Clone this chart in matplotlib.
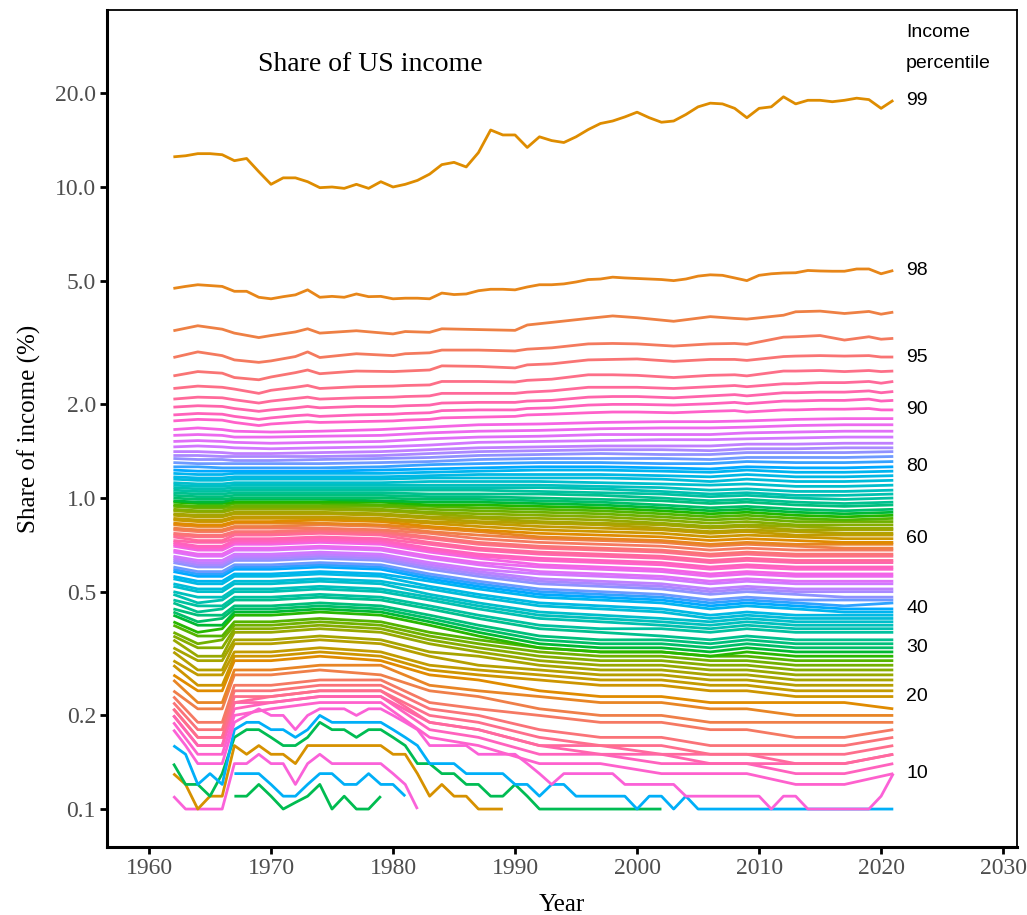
import matplotlib
matplotlib.use("Agg")
import matplotlib.pyplot as plt
import numpy as np

# ---------------- data (share of income, %) ----------------
years = list(range(1962, 2022))

share_p99 = [12.5, 12.6, 12.8, 12.8, 12.7, 12.15, 12.35, 11.2, 10.2, 10.7, 10.7, 10.4, 9.95, 10.0,
             9.9, 10.2, 9.9, 10.4, 10.0, 10.2, 10.5, 11.0, 11.8, 12.0, 11.6, 12.9, 15.25, 14.7,
             14.7, 13.4, 14.5, 14.1, 13.9, 14.5, 15.3, 16.0, 16.3, 16.8, 17.4, 16.7, 16.15, 16.3,
             17.1, 18.1, 18.6, 18.5, 17.9, 16.7, 17.9, 18.1, 19.5, 18.5, 19.0, 19.0, 18.8, 19.0,
             19.3, 19.1, 17.9, 19.0]
share_p98 = [4.72, 4.79, 4.85, 4.82, 4.79, 4.62, 4.62, 4.42, 4.37, 4.44, 4.50, 4.67, 4.42, 4.45,
             4.42, 4.53, 4.44, 4.45, 4.37, 4.39, 4.39, 4.37, 4.56, 4.51, 4.53, 4.64, 4.69, 4.69,
             4.67, 4.77, 4.85, 4.85, 4.88, 4.95, 5.04, 5.06, 5.13, 5.10, 5.08, 5.06, 5.04, 5.00,
             5.06, 5.17, 5.22, 5.20, 5.10, 5.00, 5.20, 5.26, 5.29, 5.30, 5.39, 5.37, 5.36, 5.36,
             5.45, 5.45, 5.26, 5.39]

years_upper = [1962, 1964, 1966, 1967, 1969, 1970, 1972, 1973, 1974, 1977, 1980, 1981, 1983, 1984,
               1987, 1990, 1991, 1993, 1996, 1998, 2000, 2003, 2006, 2008, 2009, 2012, 2013, 2015,
               2017, 2019, 2020, 2021]
share_p97 = [3.45, 3.58, 3.49, 3.39, 3.28, 3.33, 3.42, 3.50, 3.39, 3.45, 3.37, 3.43, 3.41, 3.50,
             3.48, 3.46, 3.60, 3.67, 3.78, 3.85, 3.80, 3.70, 3.83, 3.78, 3.76, 3.87, 3.97, 3.99,
             3.92, 3.98, 3.90, 3.96]
share_p96 = [2.83, 2.95, 2.87, 2.78, 2.73, 2.76, 2.85, 2.95, 2.83, 2.91, 2.87, 2.91, 2.93, 2.99,
             2.99, 2.97, 3.01, 3.04, 3.13, 3.14, 3.13, 3.08, 3.13, 3.14, 3.12, 3.29, 3.30, 3.33,
             3.22, 3.30, 3.24, 3.26]
share_p95 = [2.47, 2.55, 2.52, 2.44, 2.40, 2.45, 2.53, 2.58, 2.51, 2.56, 2.55, 2.56, 2.58, 2.66,
             2.65, 2.62, 2.68, 2.70, 2.78, 2.79, 2.80, 2.75, 2.79, 2.79, 2.77, 2.85, 2.86, 2.87,
             2.86, 2.87, 2.84, 2.84]
share_p94 = [2.25, 2.29, 2.27, 2.24, 2.17, 2.22, 2.27, 2.30, 2.25, 2.28, 2.29, 2.30, 2.31, 2.37,
             2.37, 2.36, 2.39, 2.41, 2.49, 2.49, 2.48, 2.44, 2.48, 2.49, 2.47, 2.56, 2.56, 2.57,
             2.55, 2.57, 2.55, 2.56]
share_p93 = [2.08, 2.11, 2.10, 2.07, 2.02, 2.05, 2.09, 2.11, 2.08, 2.10, 2.11, 2.12, 2.13, 2.17,
             2.17, 2.17, 2.19, 2.21, 2.27, 2.27, 2.27, 2.25, 2.28, 2.30, 2.28, 2.33, 2.33, 2.35,
             2.35, 2.37, 2.34, 2.37]
share_p92 = [1.96, 1.98, 1.97, 1.94, 1.90, 1.92, 1.95, 1.97, 1.95, 1.97, 1.97, 1.98, 1.99, 2.02,
             2.03, 2.03, 2.05, 2.06, 2.11, 2.12, 2.12, 2.10, 2.13, 2.15, 2.13, 2.18, 2.18, 2.19,
             2.19, 2.21, 2.18, 2.20]
share_p91 = [1.85, 1.87, 1.86, 1.83, 1.79, 1.81, 1.84, 1.85, 1.83, 1.85, 1.86, 1.87, 1.88, 1.91,
             1.92, 1.92, 1.94, 1.95, 1.99, 2.00, 2.00, 1.99, 2.01, 2.03, 2.01, 2.05, 2.05, 2.06,
             2.06, 2.08, 2.05, 2.06]
share_p90 = [1.77, 1.79, 1.78, 1.75, 1.71, 1.73, 1.75, 1.76, 1.75, 1.76, 1.77, 1.78, 1.79, 1.81,
             1.82, 1.83, 1.85, 1.86, 1.88, 1.89, 1.89, 1.88, 1.90, 1.91, 1.89, 1.92, 1.92, 1.93,
             1.93, 1.94, 1.92, 1.92]

# middle percentiles, in hundredths of a percent
years_mid = [1962, 1964, 1966, 1967, 1970, 1974, 1979, 1983, 1987, 1992, 1997, 2002, 2006, 2009,
             2013, 2017, 2021]
share_p89 = [166, 168, 166, 164, 163, 164, 166, 169, 172, 173, 175, 176, 176, 177, 179, 180, 180]
share_p88 = [159, 160, 159, 157, 157, 158, 159, 162, 164, 165, 167, 168, 168, 169, 171, 172, 172]
share_p87 = [152, 153, 152, 151, 150, 151, 152, 155, 157, 158, 160, 160, 160, 162, 163, 164, 164]
share_p86 = [146, 147, 146, 145, 144, 145, 146, 148, 151, 152, 153, 154, 154, 155, 156, 157, 157]
share_p85 = [141, 141, 140, 139, 139, 140, 141, 143, 145, 146, 147, 147, 147, 149, 149, 150, 150]
share_p84 = [137, 137, 136, 136, 136, 136, 137, 139, 141, 142, 143, 143, 142, 144, 144, 145, 145]
share_p83 = [134, 133, 133, 132, 132, 133, 134, 135, 137, 138, 139, 138, 138, 140, 140, 140, 141]
share_p82 = [130, 129, 129, 129, 129, 129, 130, 131, 133, 134, 134, 134, 133, 135, 135, 135, 136]
share_p81 = [126, 126, 125, 125, 125, 125, 126, 128, 129, 130, 130, 129, 129, 131, 130, 130, 131]
share_p80 = [123, 122, 122, 122, 122, 122, 123, 124, 125, 126, 126, 125, 124, 126, 125, 125, 126]
share_p79 = [120, 119, 119, 120, 120, 120, 120, 121, 122, 123, 123, 122, 121, 123, 121, 121, 122]
share_p78 = [117, 116, 116, 117, 117, 117, 117, 118, 119, 119, 119, 118, 117, 119, 117, 117, 118]
share_p77 = [115, 114, 114, 115, 115, 115, 115, 116, 116, 116, 116, 115, 113, 115, 113, 113, 114]
share_p76 = [112, 111, 111, 112, 112, 112, 112, 113, 113, 113, 112, 111, 110, 111, 109, 109, 110]
share_p75 = [110, 109, 109, 110, 110, 110, 110, 110, 110, 110, 109, 108, 106, 107, 105, 105, 106]
share_p74 = [108, 107, 107, 108, 108, 108, 108, 108, 108, 108, 107, 105, 103, 104, 102, 102, 103]
share_p73 = [106, 105, 105, 106, 106, 106, 106, 106, 106, 105, 104, 103, 101, 102, 100, 99, 100]
share_p72 = [104, 103, 103, 104, 104, 104, 104, 103, 103, 103, 102, 100, 98, 99, 97, 96, 97]
share_p71 = [102, 101, 101, 102, 102, 102, 102, 101, 101, 100, 99, 98, 96, 97, 95, 94, 95]
share_p70 = [100, 99, 99, 100, 100, 100, 100, 99, 99, 98, 97, 95, 93, 94, 92, 91, 92]
share_p69 = [98, 97, 97, 99, 99, 99, 98, 97, 97, 96, 95, 93, 91, 92, 90, 89, 90]
share_p68 = [97, 96, 96, 97, 97, 97, 97, 95, 95, 94, 93, 91, 89, 90, 88, 87, 88]
share_p67 = [95, 94, 94, 96, 96, 96, 95, 94, 93, 92, 91, 89, 87, 88, 86, 85, 86]
share_p66 = [94, 93, 93, 94, 94, 94, 94, 92, 91, 90, 89, 87, 85, 86, 84, 84, 84]
share_p65 = [92, 91, 91, 93, 93, 93, 92, 90, 89, 88, 87, 85, 83, 84, 82, 82, 82]
share_p64 = [91, 90, 90, 92, 92, 92, 91, 89, 87, 86, 85, 83, 81, 82, 81, 80, 80]
share_p63 = [89, 88, 88, 90, 90, 90, 89, 87, 86, 84, 83, 82, 80, 81, 79, 79, 79]
share_p62 = [88, 87, 87, 89, 89, 89, 88, 86, 84, 83, 82, 80, 78, 79, 78, 77, 77]
share_p61 = [86, 85, 85, 87, 87, 87, 86, 84, 83, 81, 80, 79, 77, 78, 76, 76, 76]
share_p60 = [85, 84, 84, 86, 86, 86, 85, 83, 81, 79, 78, 77, 75, 76, 75, 74, 74]
share_p59 = [83, 82, 82, 84, 84, 85, 84, 81, 79, 77, 76, 75, 73, 74, 73, 72, 72]
share_p58 = [82, 81, 81, 83, 83, 83, 82, 80, 78, 75, 74, 73, 71, 72, 71, 71, 71]
share_p57 = [80, 79, 79, 81, 81, 82, 81, 78, 76, 74, 73, 72, 70, 71, 70, 69, 69]
share_p56 = [79, 78, 78, 80, 80, 80, 79, 77, 74, 72, 71, 70, 68, 69, 68, 68, 68]
share_p55 = [77, 76, 76, 78, 78, 79, 78, 75, 72, 70, 69, 68, 66, 67, 66, 66, 66]
share_p54 = [76, 75, 75, 77, 77, 78, 77, 74, 71, 69, 68, 67, 65, 66, 65, 65, 65]
share_p53 = [75, 73, 73, 76, 76, 77, 76, 72, 69, 67, 66, 65, 63, 64, 63, 63, 63]
share_p52 = [73, 72, 72, 74, 74, 75, 74, 71, 68, 66, 65, 64, 62, 63, 62, 62, 62]
share_p51 = [72, 70, 70, 73, 73, 74, 73, 69, 66, 64, 63, 62, 60, 61, 60, 60, 60]
share_p50 = [71, 69, 69, 72, 72, 73, 72, 68, 65, 63, 62, 61, 59, 60, 59, 59, 59]
share_p49 = [70, 68, 68, 71, 71, 72, 71, 67, 64, 61, 60, 59, 57, 58, 57, 57, 57]
share_p48 = [68, 66, 66, 69, 69, 70, 69, 65, 62, 60, 59, 58, 56, 57, 56, 56, 56]
share_p47 = [67, 65, 65, 68, 68, 69, 68, 64, 61, 58, 57, 56, 54, 55, 54, 54, 54]
share_p46 = [65, 63, 63, 66, 66, 67, 66, 62, 59, 57, 56, 55, 53, 54, 53, 53, 53]
share_p45 = [64, 62, 62, 65, 65, 66, 65, 61, 58, 55, 54, 53, 51, 52, 51, 51, 51]
share_p44 = [63, 61, 61, 64, 64, 65, 64, 60, 57, 54, 53, 52, 50, 51, 50, 50, 50]
share_p43 = [62, 60, 60, 63, 63, 64, 63, 59, 56, 53, 52, 51, 49, 50, 49, 48, 48]
share_p42 = [60, 58, 58, 61, 61, 62, 61, 57, 54, 51, 50, 49, 47, 48, 47, 47, 47]
share_p41 = [59, 57, 57, 60, 60, 61, 60, 56, 53, 50, 49, 48, 46, 47, 46, 45, 46]
share_p40 = [58, 56, 56, 59, 59, 60, 59, 55, 52, 49, 48, 47, 45, 46, 45, 44, 44]
share_p39 = [56, 54, 54, 57, 57, 58, 57, 54, 51, 48, 47, 46, 44, 45, 44, 43, 43]
share_p38 = [55, 53, 53, 56, 56, 57, 56, 52, 49, 46, 45, 44, 42, 43, 42, 42, 42]
share_p37 = [53, 51, 51, 54, 54, 55, 54, 51, 48, 45, 44, 43, 41, 42, 41, 41, 41]
share_p36 = [52, 50, 50, 53, 53, 54, 53, 49, 46, 43, 42, 41, 40, 41, 40, 40, 40]
share_p35 = [50, 48, 48, 51, 51, 52, 51, 48, 45, 42, 41, 40, 39, 40, 39, 39, 39]
share_p34 = [49, 46, 47, 50, 50, 51, 50, 47, 44, 41, 40, 39, 38, 39, 38, 38, 38]
share_p33 = [47, 45, 45, 48, 48, 49, 48, 45, 42, 39, 38, 38, 37, 38, 37, 37, 37]
share_p32 = [46, 43, 44, 47, 47, 48, 47, 44, 41, 38, 37, 36, 35, 36, 35, 35, 35]
share_p31 = [44, 42, 42, 45, 45, 46, 45, 42, 39, 36, 35, 35, 34, 35, 34, 34, 34]
share_p30 = [43, 40, 41, 44, 44, 45, 44, 41, 38, 35, 34, 34, 33, 34, 33, 33, 33]
share_p29 = [42, 39, 39, 43, 43, 44, 43, 40, 37, 34, 33, 33, 32, 33, 32, 32, 32]
share_p28 = [40, 37, 38, 42, 42, 43, 42, 39, 36, 33, 32, 32, 31, 32, 31, 31, 31]
share_p27 = [39, 36, 36, 40, 40, 41, 40, 37, 35, 33, 32, 32, 31, 31, 30, 30, 30]
share_p26 = [37, 34, 35, 39, 39, 40, 39, 36, 34, 32, 31, 31, 30, 30, 29, 29, 29]
share_p25 = [36, 33, 33, 38, 38, 39, 38, 35, 33, 31, 30, 30, 29, 29, 28, 28, 28]
share_p24 = [35, 31, 31, 37, 37, 38, 37, 34, 32, 30, 29, 29, 28, 28, 27, 27, 27]
share_p23 = [33, 30, 30, 35, 35, 36, 35, 32, 31, 29, 28, 28, 27, 27, 26, 26, 26]
share_p22 = [32, 28, 28, 34, 34, 35, 34, 31, 29, 28, 27, 27, 26, 26, 25, 25, 25]
share_p21 = [30, 27, 27, 32, 32, 33, 32, 29, 28, 27, 26, 26, 25, 25, 24, 24, 24]
share_p20 = [29, 25, 25, 31, 31, 32, 31, 28, 27, 26, 25, 25, 24, 24, 23, 23, 23]
share_p19 = [27, 24, 24, 30, 30, 31, 30, 27, 26, 24, 23, 23, 22, 22, 22, 22, 21]
share_p18 = [26, 22, 22, 28, 28, 29, 29, 25, 24, 23, 22, 22, 21, 21, 20, 20, 20]
share_p17 = [24, 21, 21, 27, 27, 28, 27, 24, 23, 21, 20, 20, 19, 19, 19, 19, 19]
share_p16 = [23, 19, 19, 25, 25, 26, 26, 22, 21, 20, 19, 19, 18, 18, 17, 17, 18]
share_p15 = [22, 18, 18, 24, 24, 25, 25, 21, 20, 18, 17, 17, 16, 16, 16, 16, 17]
share_p14 = [21, 17, 17, 23, 23, 24, 24, 20, 19, 17, 16, 16, 15, 15, 15, 15, 16]
share_p13 = [21, 17, 17, 22, 23, 24, 24, 19, 18, 16, 16, 15, 15, 15, 14, 14, 15]
share_p12 = [20, 16, 16, 22, 22, 23, 23, 19, 18, 16, 15, 15, 14, 14, 14, 14, 15]
share_p11 = [20, 16, 16, 21, 22, 23, 23, 18, 17, 15, 15, 14, 14, 14, 13, 13, 14]
share_p10 = [19, 15, 15, 20, 21, 22, 22, 17, 16, 14, 14, 13, 13, 13, 12, 12, 13]

# lowest percentiles, yearly 1962-2021 (None = below 0.1 %, not shown)
N = None
share_p9 = [.18, .16, .14, .14, .14, .19, .20, .21, .20, .20, .18, .20, .21, .21, .21, .20, .21, .21,
            .20, .19, .18, .16, .16, .16, .16, .15, .15, .15, .15, .14, .13, .12, .13, .13, .13, .13,
            .13, .12, .12, .12, .12, .12, .11, .11, .11, .11, .11, .11, .11, .10, .11, .11, .10, .10,
            .10, .10, .10, .10, .11, .13]
share_p8 = [.16, .15, .12, .13, .12, .18, .19, .19, .18, .18, .17, .18, .20, .19, .19, .19, .19, .19,
            .18, .17, .16, .14, .14, .14, .13, .13, .13, .13, .12, .12, .11, .12, .12, .11, .11, .11,
            .11, .11, .10, .11, .11, .10, .11, .10, .10, .10, .10, .10, .10, .10, .10, .10, .10, .10,
            .10, .10, .10, .10, .10, .10]
share_p7 = [.14, .12, .12, .11, .13, .17, .18, .18, .17, .16, .16, .17, .19, .18, .18, .17, .18, .18,
            .17, .16, .14, .14, .13, .13, .12, .12, .11, .11, .12, .11, .10, .10, .10, .10, .10, .10,
            .10, .10, .10, .10, .10, N, N, N, N, N, N, N, N, N, N, N, N, N, N, N, N, N, N, N]
share_p6 = [.13, .12, .10, .11, .11, .16, .15, .16, .15, .15, .14, .16, .16, .16, .16, .16, .16, .16,
            .15, .15, .13, .11, .12, .11, .11, .10, .10, .10, N, N, N, N, N, N, N, N, N, N, N, N, N,
            N, N, N, N, N, N, N, N, N, N, N, N, N, N, N, N, N, N, N]
share_p5 = [.11, .10, .10, .10, .10, .14, .14, .15, .14, .14, .12, .14, .15, .14, .14, .14, .14, .14,
            .13, .12, .10, N, N, N, N, N, N, N, N, N, N, N, N, N, N, N, N, N, N, N, N, N, N, N, N,
            N, N, N, N, N, N, N, N, N, N, N, N, N, N, N]
share_p4 = [N, N, N, N, N, .13, .13, .13, .12, .11, .11, .12, .13, .13, .12, .12, .13, .12, .12, .11,
            N, N, N, N, N, N, N, N, N, N, N, N, N, N, N, N, N, N, N, N, N, N, N, N, N, N, N, N, N,
            N, N, N, N, N, N, N, N, N, N, N]
share_p3 = [N, N, N, N, N, .11, .11, .12, .11, .10, .105, .11, .12, .10, .11, .10, .10, .11, N, N,
            N, N, N, N, N, N, N, N, N, N, N, N, N, N, N, N, N, N, N, N, N, N, N, N, N, N, N, N, N,
            N, N, N, N, N, N, N, N, N, N, N]

label_percentiles = [99, 98, 95, 90, 80, 60, 40, 30, 20, 10]

# ---------------- assemble series ----------------
g = globals()
series = {}
for p in range(3, 100):
    vals = g[f"share_p{p}"]
    if p >= 98:
        xs, ys = years, vals
    elif 90 <= p <= 97:
        xs, ys = years_upper, vals
    elif 10 <= p <= 89:
        xs, ys = years_mid, [v / 100.0 for v in vals]
    else:
        xs, ys = years, vals
    ys = np.array([np.nan if v is None else v for v in ys], dtype=float)
    series[p] = (np.array(xs, dtype=float), ys)


def hcl_to_rgb(h, c=100.0, l=65.0):
    hr = np.deg2rad(h)
    u, v = c * np.cos(hr), c * np.sin(hr)
    Xn, Yn, Zn = 95.047, 100.0, 108.883
    den = Xn + 15 * Yn + 3 * Zn
    un, vn = 4 * Xn / den, 9 * Yn / den
    Y = Yn * ((l + 16) / 116) ** 3
    up = u / (13 * l) + un
    vp = v / (13 * l) + vn
    X = Y * 9 * up / (4 * vp)
    Z = Y * (12 - 3 * up - 20 * vp) / (4 * vp)
    X, Y, Z = X / 100, Y / 100, Z / 100
    rgb = np.array([3.2404542 * X - 1.5371385 * Y - 0.4985314 * Z,
                    -0.9692660 * X + 1.8760108 * Y + 0.0415560 * Z,
                    0.0556434 * X - 0.2040259 * Y + 1.0572252 * Z])
    rgb = np.where(rgb <= 0.0031308, 12.92 * rgb, 1.055 * np.abs(rgb) ** (1 / 2.4) - 0.055)
    return tuple(np.clip(rgb, 0, 1))


lex_levels = sorted(str(i) for i in range(1, 100))


def colour_for(p):
    idx = lex_levels.index(str(p))
    return hcl_to_rgb((45 + (idx - 98) * 8.2) % 360)


# ---------------- figure ----------------
fig = plt.figure(figsize=(10.27, 9.15), dpi=100)
ax = fig.add_axes([0.1042, 0.0743, 0.8862, 0.9148])
serif = "Liberation Serif"
sans = "Liberation Sans"

for p in range(3, 100):
    xs, ys = series[p]
    ax.plot(xs, ys, color=colour_for(p), lw=2.0, solid_joinstyle="round",
            solid_capstyle="butt", zorder=2)

ax.set_yscale("log")
ax.set_xlim(1956.56, 2031.15)
ax.set_ylim(0.0755, 37.08)

yt = [0.1, 0.2, 0.5, 1.0, 2.0, 5.0, 10.0, 20.0]
ax.set_yticks(yt)
ax.set_yticklabels(["0.1", "0.2", "0.5", "1.0", "2.0", "5.0", "10.0", "20.0"])
ax.yaxis.set_minor_locator(matplotlib.ticker.NullLocator())
ax.set_xticks(list(range(1960, 2031, 10)))
for lab in ax.get_xticklabels() + ax.get_yticklabels():
    lab.set_fontfamily(serif)
    lab.set_fontsize(17)
    lab.set_color("#4D4D4D")
ax.tick_params(axis="both", which="major", length=5, width=2, color="black", pad=3)

for side in ["left", "bottom"]:
    ax.spines[side].set_linewidth(2.2)
for side in ["top", "right"]:
    ax.spines[side].set_linewidth(1.3)

ax.set_xlabel("Year", fontfamily=serif, fontsize=18, labelpad=11)
ax.set_ylabel("Share of income (%)", fontfamily=serif, fontsize=18, labelpad=10)

ax.text(1978.1, 24.7, "Share of US income", fontfamily=serif, fontsize=20,
        ha="center", va="center")

ax.text(2022.05, 31.27, "Income", fontfamily=sans, fontsize=14, ha="left", va="center")
ax.text(2022.05, 24.87, "percentile", fontfamily=sans, fontsize=14, ha="left", va="center")
for p in label_percentiles:
    xs, ys = series[p]
    ax.text(2022.05, ys[-1], str(p), fontfamily=sans, fontsize=14, ha="left", va="center")

fig.savefig("out.png", dpi=100)
